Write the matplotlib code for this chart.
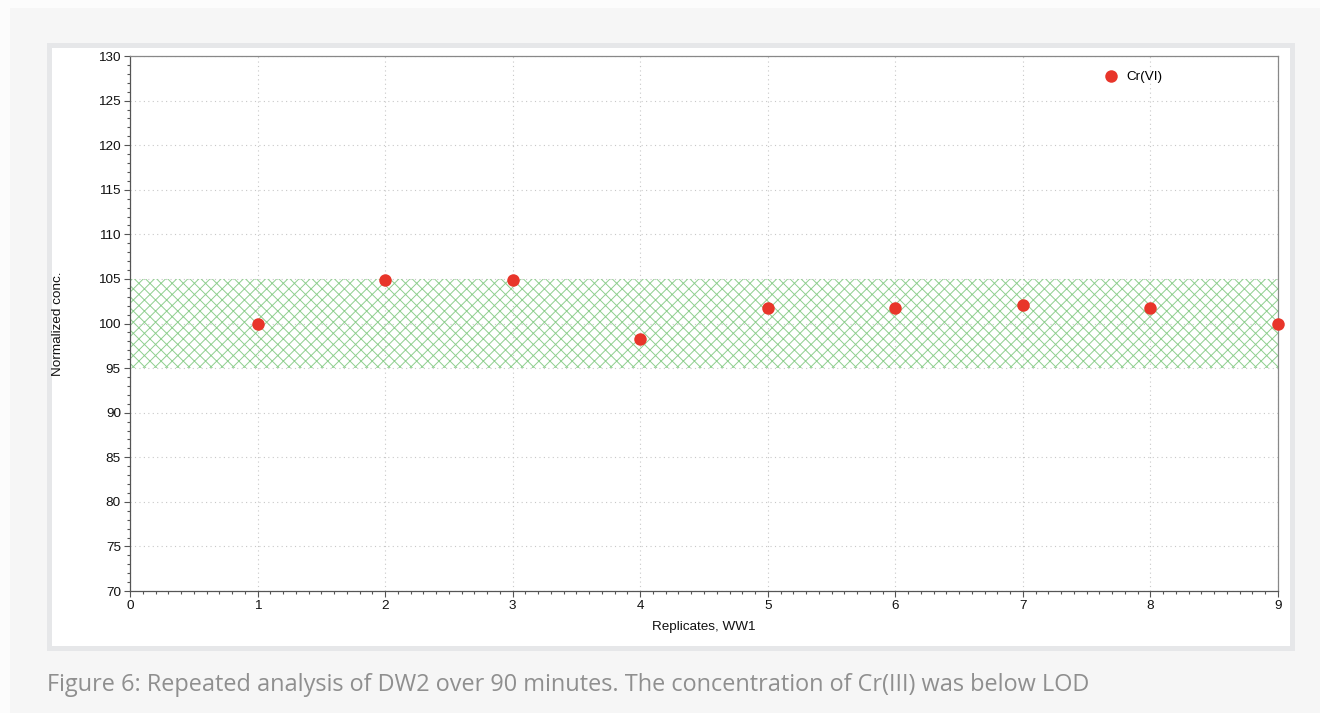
import matplotlib
matplotlib.use("Agg")
import matplotlib.pyplot as plt
from matplotlib.patches import Rectangle
from matplotlib.ticker import MultipleLocator

# Data
replicates = [1, 2, 3, 4, 5, 6, 7, 8, 9]
cr_vi = [100.0, 104.9, 104.9, 98.3, 101.7, 101.7, 102.1, 101.7, 100.0]
band_low, band_high = 95, 105
series_name = "Cr(VI)"
x_label = "Replicates, WW1"
y_label = "Normalized conc."
caption = "Figure 6: Repeated analysis of DW2 over 90 minutes. The concentration of Cr(III) was below LOD"

W, H = 1320, 713
fig = plt.figure(figsize=(W / 100, H / 100), dpi=100)
fig.patch.set_facecolor("#fcfcfc")

def px_rect(x0, y0, x1, y1, color, z):
    fig.patches.append(Rectangle((x0 / W, 1 - y1 / H), (x1 - x0) / W, (y1 - y0) / H,
                                 transform=fig.transFigure, facecolor=color,
                                 edgecolor="none", zorder=z))

# page panel, frame border and white card
px_rect(10, 8, W, H, "#f6f6f6", 0)
px_rect(47, 43, 1295, 651, "#e6e7e9", 1)
px_rect(52, 48, 1290, 646, "#ffffff", 2)

plt.rcParams["font.family"] = ["Liberation Sans", "DejaVu Sans"]
plt.rcParams["hatch.linewidth"] = 0.7

AX_L, AX_R, AX_T, AX_B = 130, 1278, 56, 591
ax = fig.add_axes([AX_L / W, 1 - AX_B / H, (AX_R - AX_L) / W, (AX_B - AX_T) / H])
ax.set_facecolor("white")
ax.set_zorder(3)

ax.set_xlim(0, 9)
ax.set_ylim(70, 130)

ax.fill_between([0, 9], band_low, band_high, facecolor="none",
                edgecolor="#8fcf8f", hatch="xxx", linewidth=0, zorder=1)

ax.plot(replicates, cr_vi, linestyle="none", marker="o", markersize=9,
        color="#e8352a", markeredgewidth=0, label=series_name, zorder=4,
        clip_on=False)

ax.xaxis.set_major_locator(MultipleLocator(1))
ax.xaxis.set_minor_locator(MultipleLocator(0.1))
ax.yaxis.set_major_locator(MultipleLocator(5))
ax.yaxis.set_minor_locator(MultipleLocator(1))

ax.grid(True, which="major", linestyle=(0, (1, 3)), color="#c8c8c8", linewidth=0.8)
ax.set_axisbelow(True)

FS = 9.7
ax.tick_params(which="major", direction="out", length=4.5, width=0.8,
               color="#555555", labelsize=FS, pad=2, labelcolor="#111111")
ax.tick_params(which="minor", direction="out", length=2.5, width=0.8, color="#555555")

for side in ("left", "bottom"):
    ax.spines[side].set_color("#555555")
    ax.spines[side].set_linewidth(0.9)
for side in ("top", "right"):
    ax.spines[side].set_color("#888888")
    ax.spines[side].set_linewidth(0.9)

ax.set_xlabel(x_label, fontsize=FS, color="#111111")
ax.set_ylabel(y_label, fontsize=FS, color="#111111")
ax.xaxis.set_label_coords(0.5, (AX_B - 627) / (AX_B - AX_T))
ax.xaxis.label.set_va("center")
ax.yaxis.set_label_coords((58 - AX_L) / (AX_R - AX_L), 0.5)
ax.yaxis.label.set_va("center")

ax.legend(loc="upper left", bbox_to_anchor=((1092 - AX_L) / (AX_R - AX_L), 0.982),
          frameon=False, fontsize=FS, handletextpad=0.15, markerscale=1.0,
          borderaxespad=0)

fig.text(47 / W, 1 - 685 / H, caption, fontsize=16.9, color="#8f8f8f",
         family=["Open Sans", "DejaVu Sans"], va="center", ha="left")

fig.savefig("out.png", dpi=100, facecolor=fig.get_facecolor())
